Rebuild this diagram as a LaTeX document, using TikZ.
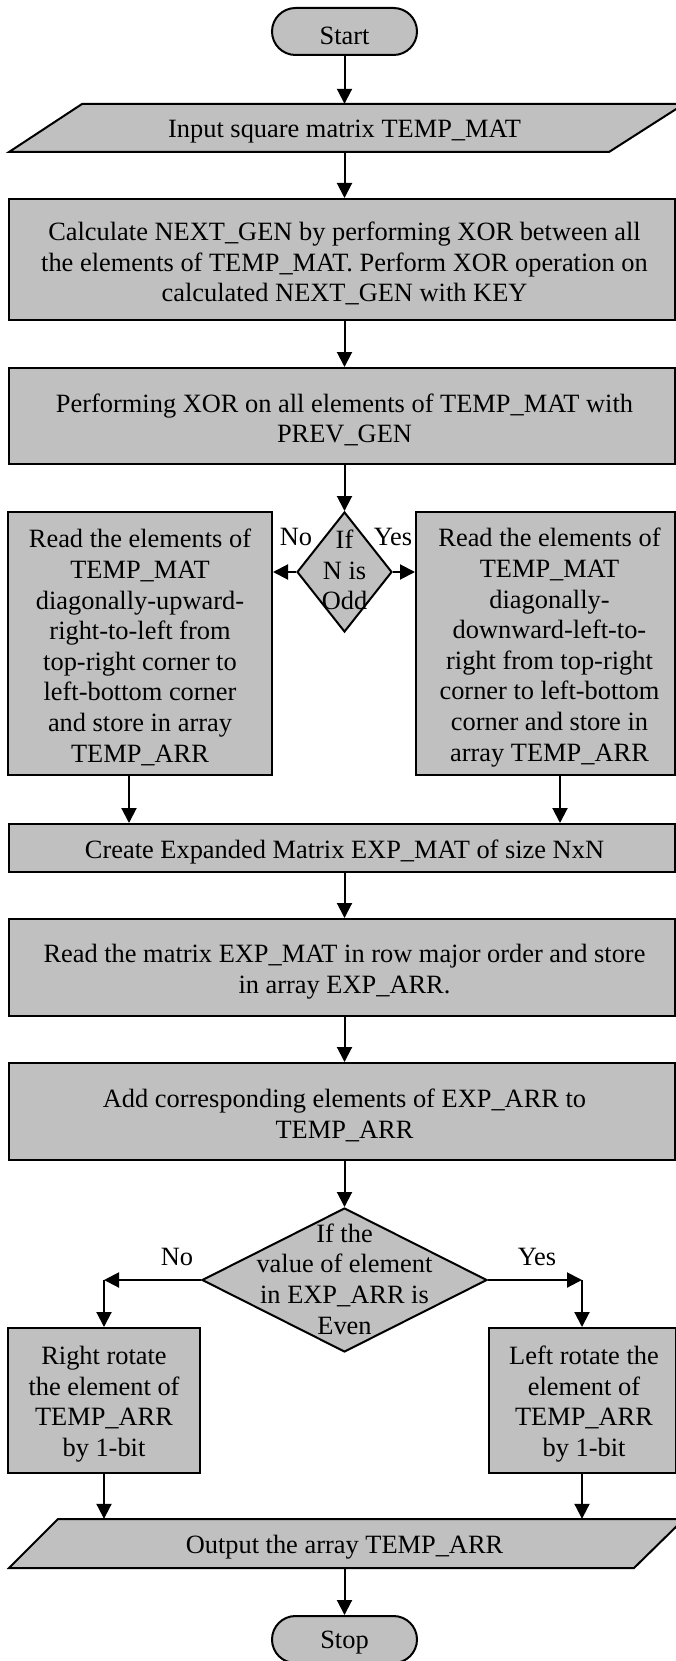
\documentclass[tikz,border=0pt]{standalone}
\usepackage{fontspec}
\setmainfont{Liberation Serif}
\usetikzlibrary{arrows.meta,shapes.geometric,calc}
\definecolor{boxgray}{RGB}{192,192,192}
\begin{document}
\begin{tikzpicture}[x=1pt,y=-1pt,
  txt/.style={font=\fontsize{26.4}{30.6}\selectfont, align=center, inner sep=0pt},
  procbox/.style={draw=black, fill=boxgray, line width=2pt, rectangle, inner sep=0pt},
  termbox/.style={procbox, rounded corners=23.5pt},
  shapeline/.style={draw=black, fill=boxgray, line width=2pt, line join=miter},
  arr/.style={line width=2pt, -{Triangle[length=15pt,width=15pt]}}
]
\useasboundingbox (0,0) rectangle (676,1661);

% Start
\node[termbox, minimum width=145pt, minimum height=47pt] (start) at (344.5,31.5) {};
\node[txt] (startt) at (344.5,35.5) {Start};

% Input parallelogram
\draw[shapeline] (9,152) -- (82,104) -- (684,104) -- (609,152) -- cycle;
\node[minimum width=520pt, minimum height=48pt, inner sep=0pt] (in) at (344.5,128) {};
\node[txt] (int) at (344.5,132) {Input square matrix TEMP\_MAT};

% Process boxes
\node[procbox, minimum width=666pt, minimum height=121pt] (b1) at (342,259.5) {};
\node[txt] (b1t) at (344.5,263.5)
  {Calculate NEXT\_GEN by performing XOR between all\\the elements of TEMP\_MAT. Perform XOR operation on\\calculated NEXT\_GEN with KEY};
\node[procbox, minimum width=666pt, minimum height=96pt] (b2) at (342,416) {};
\node[txt] (b2t) at (344.5,420)
  {Performing XOR on all elements of TEMP\_MAT with\\PREV\_GEN};

% Decision 1
\node[shapeline, diamond, minimum width=95pt, minimum height=120pt, inner sep=0pt, aspect=0.79] (d1) at (344.5,572) {};
\node[txt] (d1t) at (344.5,570) {If\\N is\\Odd};

\node[procbox, minimum width=264pt, minimum height=263pt] (ba) at (140,643.5) {};
\node[txt] (bat) at (140,647.5)
  {Read the elements of\\TEMP\_MAT\\diagonally-upward-\\right-to-left from\\top-right corner to\\left-bottom corner\\and store in array\\TEMP\_ARR};
\node[procbox, minimum width=259pt, minimum height=263pt] (bb) at (545.5,643.5) {};
\node[txt] (bbt) at (549.5,647.5)
  {Read the elements of\\TEMP\_MAT\\diagonally-\\downward-left-to-\\right from top-right\\corner to left-bottom\\corner and store in\\array TEMP\_ARR};

\node[txt] (no1) at (296,537) {No};
\node[txt] (yes1) at (393,537) {Yes};

\node[procbox, minimum width=666pt, minimum height=48pt] (b3) at (342,848) {};
\node[txt] (b3t) at (344.5,852) {Create Expanded Matrix EXP\_MAT of size NxN};
\node[procbox, minimum width=666pt, minimum height=97pt] (b4) at (342,967.5) {};
\node[txt] (b4t) at (344.5,971.5)
  {Read the matrix EXP\_MAT in row major order and store\\in array EXP\_ARR.};
\node[procbox, minimum width=666pt, minimum height=97pt] (b5) at (342,1111.5) {};
\node[txt] (b5t) at (344.5,1115.5)
  {Add corresponding elements of EXP\_ARR to\\TEMP\_ARR};

% Decision 2
\node[shapeline, diamond, minimum width=285pt, minimum height=144pt, inner sep=0pt, aspect=1.98] (d2) at (344.5,1280) {};
\node[txt] (d2t) at (344.5,1279) {If the\\value of element\\in EXP\_ARR is\\Even};

\node[txt] (no2) at (177,1257) {No};
\node[txt] (yes2) at (537,1257) {Yes};

\node[procbox, minimum width=192pt, minimum height=145pt] (bc) at (104,1400.5) {};
\node[txt] (bct) at (104,1404)
  {Right rotate\\the element of\\TEMP\_ARR\\by 1-bit};
\node[procbox, minimum width=187pt, minimum height=145pt] (bd) at (582,1400.5) {};
\node[txt] (bdt) at (584,1404)
  {Left rotate the\\element of\\TEMP\_ARR\\by 1-bit};

\coordinate (cl) at (bc.north |- d2.west);
\coordinate (cr) at (bd.north |- d2.east);

% Output parallelogram
\draw[shapeline] (9,1568) -- (58,1519) -- (684,1519) -- (634,1568) -- cycle;
\node[minimum width=500pt, minimum height=49pt, inner sep=0pt] (out) at (344.5,1543.5) {};
\node[txt] (outt) at (344.5,1547) {Output the array TEMP\_ARR};

% Stop
\node[termbox, minimum width=145pt, minimum height=47pt] (stop) at (344.5,1639.5) {};
\node[txt] (stopt) at (344.5,1643) {Stop};

% Connectors
\draw[arr] (start.south) -- (in.north);
\draw[arr] (in.south) -- (in.south |- b1.north);
\draw[arr] (in.south |- b1.south) -- (in.south |- b2.north);
\draw[arr] (in.south |- b2.south) -- (d1.north);
\draw[arr] (d1.west) -- (d1.west -| ba.east);
\draw[arr] (d1.east) -- (d1.east -| bb.west);
\draw[arr] ([xshift=-11pt]ba.south) -- ([xshift=-11pt]ba.south |- b3.north);
\draw[arr] ([xshift=14.5pt]bb.south) -- ([xshift=14.5pt]bb.south |- b3.north);
\draw[arr] (in.south |- b3.south) -- (in.south |- b4.north);
\draw[arr] (in.south |- b4.south) -- (in.south |- b5.north);
\draw[arr] (in.south |- b5.south) -- (d2.north);
\draw[arr] (d2.west) -- (cl);
\draw[arr] (cl) -- (bc.north);
\draw[arr] (d2.east) -- (cr);
\draw[arr] (cr) -- (bd.north);
\draw[arr] (bc.south) -- (bc.south |- out.north);
\draw[arr] (bd.south) -- (bd.south |- out.north);
\draw[arr] (out.south) -- (stop.north);
\end{tikzpicture}
\end{document}
